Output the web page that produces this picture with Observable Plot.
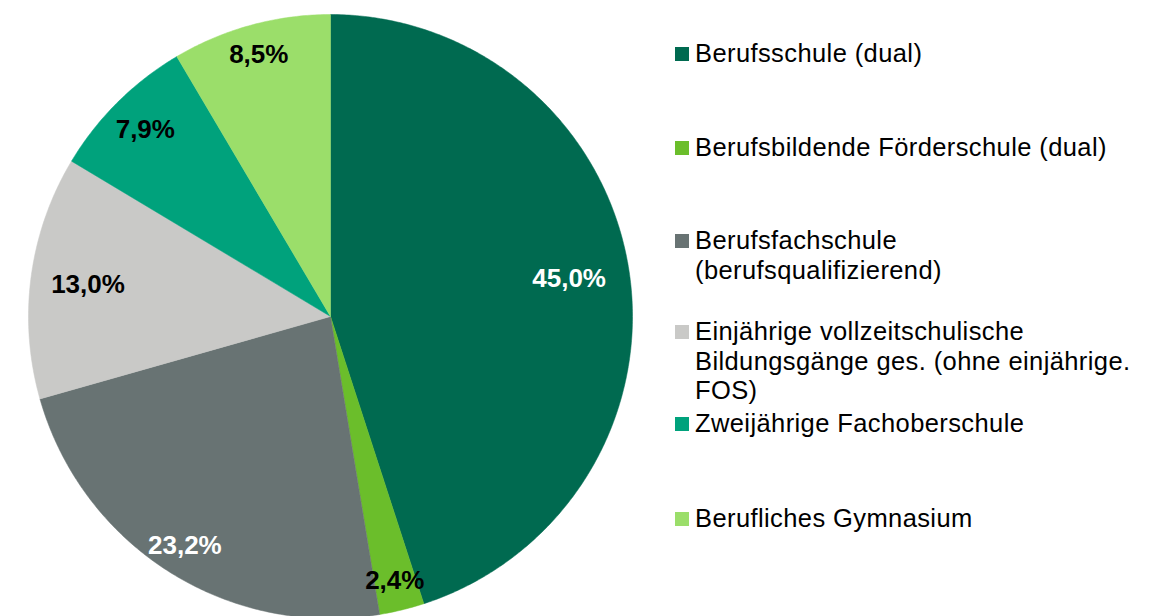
<!DOCTYPE html>
<html>
<head>
<meta charset="utf-8">
<script src="https://cdn.jsdelivr.net/npm/d3@7"></script>
<script src="https://cdn.jsdelivr.net/npm/@observablehq/plot@0.6"></script>
<style>
  html, body { margin: 0; padding: 0; background: #fff; overflow: hidden; }
  body { width: 1160px; height: 616px; position: relative; font-family: "Liberation Sans", Arial, sans-serif; }
  #chart { position: absolute; left: 0; top: 0; }
  .leg { position: absolute; left: 675px; display: flex; align-items: flex-start; font-size: 25.5px; letter-spacing: 0.4px; line-height: 29.5px; color: #000; white-space: nowrap; }
  .sw { width: 14px; height: 14px; margin-top: 8px; margin-right: 6px; flex: none; }
</style>
</head>
<body>
<div id="chart"></div>
<div id="legend"></div>
<script>
// ---- data ----
const categories = [
  "Berufsschule (dual)",
  "Berufsbildende Förderschule (dual)",
  "Berufsfachschule (berufsqualifizierend)",
  "Einjährige vollzeitschulische Bildungsgänge ges. (ohne einjährige. FOS)",
  "Zweijährige Fachoberschule",
  "Berufliches Gymnasium"
];
const values = [45.0, 2.4, 23.2, 13.0, 7.9, 8.5];
const valueLabels = ["45,0%", "2,4%", "23,2%", "13,0%", "7,9%", "8,5%"];
const legendLines = [
  ["Berufsschule (dual)"],
  ["Berufsbildende Förderschule (dual)"],
  ["Berufsfachschule", "(berufsqualifizierend)"],
  ["Einjährige vollzeitschulische", "Bildungsgänge ges. (ohne einjährige.", "FOS)"],
  ["Zweijährige Fachoberschule"],
  ["Berufliches Gymnasium"]
];

// ---- style / layout ----
const colors = ["#006A50", "#6BBE2B", "#687373", "#C9C9C7", "#00A27C", "#9BDE6A"];
const labelColors = ["#fff", "#000", "#fff", "#000", "#000", "#000"];
const labelRadius = [0.8, 0.9, 0.9, 0.81, 0.87, 0.9];
const legendTop = [39, 133, 226, 317, 409, 504];

// ---- geometry from values ----
const total = d3.sum(values);
let acc = 0;
const slices = values.map((v, i) => {
  const a0 = acc / total * 2 * Math.PI;
  acc += v;
  const a1 = acc / total * 2 * Math.PI;
  return {name: categories[i], a0, a1, mid: (a0 + a1) / 2, i};
});
const poly = [];
for (const s of slices) {
  poly.push({name: s.name, x: 0, y: 0});
  const n = Math.max(2, Math.ceil((s.a1 - s.a0) / (Math.PI / 360)));
  for (let k = 0; k <= n; k++) {
    const a = s.a0 + (s.a1 - s.a0) * k / n;
    poly.push({name: s.name, x: Math.sin(a), y: Math.cos(a)});
  }
  poly.push({name: s.name, x: 0, y: 0});
}
const labels = slices.map(s => ({
  name: s.name,
  text: valueLabels[s.i],
  color: labelColors[s.i],
  x: Math.sin(s.mid) * labelRadius[s.i],
  y: Math.cos(s.mid) * labelRadius[s.i]
}));

const plot = Plot.plot({
  width: 1160,
  height: 616,
  marginLeft: 28,
  marginRight: 528,
  marginTop: 14,
  marginBottom: 0,
  x: {domain: [-1, 1], axis: null},
  y: {domain: [1 - 602 / 302, 1], axis: null},
  color: {domain: categories, range: colors},
  style: {fontFamily: "'Liberation Sans', Arial, sans-serif", overflow: "visible"},
  marks: [
    Plot.line(poly, {x: "x", y: "y", z: "name", fill: "name", stroke: "name", strokeWidth: 0.5, curve: "linear"}),
    Plot.text(labels, {x: "x", y: "y", text: "text", fill: d => d.color, fontSize: 26, fontWeight: "bold"})
  ]
});
document.getElementById("chart").appendChild(plot);

// ---- legend ----
const leg = document.getElementById("legend");
categories.forEach((c, i) => {
  const div = document.createElement("div");
  div.className = "leg";
  div.style.top = legendTop[i] + "px";
  const sw = document.createElement("div");
  sw.className = "sw";
  sw.style.background = colors[i];
  const txt = document.createElement("div");
  txt.innerHTML = legendLines[i].join("<br>");
  div.appendChild(sw);
  div.appendChild(txt);
  leg.appendChild(div);
});
</script>
</body>
</html>
